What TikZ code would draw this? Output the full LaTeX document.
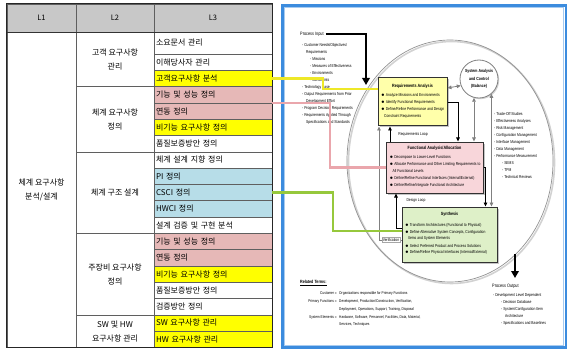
\documentclass[tikz,border=0pt]{standalone}
\usepackage{fontspec}
\newfontfamily\kr{Noto Sans CJK KR}
\newfontfamily\dg[FakeStretch=0.8]{Liberation Sans}
\usetikzlibrary{arrows.meta,shadows}
\definecolor{hdr}{RGB}{200,200,200}
\definecolor{grid}{RGB}{95,95,95}
\definecolor{cy}{RGB}{255,255,0}
\definecolor{cp}{RGB}{230,184,183}
\definecolor{cb}{RGB}{183,221,232}
\definecolor{ryel}{RGB}{255,255,170}
\definecolor{fpink}{RGB}{248,214,218}
\definecolor{sgreen}{RGB}{222,240,200}
\definecolor{lyel}{RGB}{238,232,40}
\definecolor{lpink}{RGB}{234,166,172}
\definecolor{lgreen}{RGB}{150,200,60}
\definecolor{bord}{RGB}{60,140,222}
\definecolor{bx}{RGB}{50,50,50}
\begin{document}
\begin{tikzpicture}[x=1pt,y=-1pt,
  cell/.style={draw=grid,line width=0.6pt,inner sep=0pt,minimum width=118pt,minimum height=16.3pt,text width=114pt,align=left,font=\kr\fontsize{8}{9}\selectfont},
  lvtwo/.style={draw=grid,line width=0.6pt,inner sep=0pt,minimum width=78pt,align=center,font=\kr\fontsize{8}{14}\selectfont},
  hd/.style={draw=grid,fill=hdr,line width=0.6pt,inner sep=0pt,minimum height=28pt,font=\kr\fontsize{7.5}{9}\selectfont},
  dbox/.style={draw=bx,line width=1pt,inner sep=0pt,drop shadow={shadow xshift=1.5pt,shadow yshift=-1.5pt,opacity=0.45}},
  txt/.style={font=\dg\fontsize{4.2}{5}\selectfont,inner sep=0pt,anchor=west},
  rtxt/.style={font=\dg\fontsize{4}{5}\selectfont,inner sep=0pt,anchor=west},
  ttl/.style={font=\dg\bfseries\fontsize{4.6}{5}\selectfont,inner sep=0pt},
  hdtxt/.style={font=\dg\fontsize{4.8}{5}\selectfont,inner sep=0pt,anchor=west},
  darr/.style={draw=black,line width=0.9pt,-{Triangle[length=4pt,width=3.6pt]}},
  garr/.style={draw=gray,line width=0.8pt,{Triangle[length=4pt,width=3.6pt]}-{Triangle[length=4pt,width=3.6pt]}},
  gone/.style={draw=gray,line width=0.8pt,-{Triangle[length=4pt,width=3.6pt]}},
  bigarr/.style={draw=black,line width=2.3pt,-{Triangle[length=7pt,width=7.5pt]}},
  conn/.style={line width=2.6pt}
]
\useasboundingbox (0,0) rectangle (571,353);
\fill[white] (0,0) rectangle (571,353);

% ---------------- table ----------------
\node[hd,minimum width=69pt] (h1) at (41.5,18) {L1};
\node[hd,minimum width=78pt] (h2) at (115,18) {L2};
\node[hd,minimum width=118pt] (h3) at (213,18) {L3};

\node[draw=grid,line width=0.6pt,minimum width=69pt,minimum height=315.4pt,inner sep=0pt,align=center,font=\kr\fontsize{8}{14}\selectfont] (l1) at (41.5,189.7) {체계 요구사항\\분석/설계};

\node[lvtwo,minimum height=54.6pt] (g1) at (115,59.3) {고객 요구사항\\관리};
\node[lvtwo,minimum height=65.2pt] (g2) at (115,119.2) {체계 요구사항\\정의};
\node[lvtwo,minimum height=81.5pt] (g3) at (115,192.55) {체계 구조 설계};
\node[lvtwo,minimum height=81.5pt] (g4) at (115,274.05) {주장비 요구사항\\정의};
\node[lvtwo,minimum height=32.6pt] (g5) at (115,331.1) {SW 및 HW\\요구사항 관리};

\node[cell,minimum height=22pt] (c1) at (213,43) {소요문서 관리};
\node[cell] (c2) at (213,62.15) {이해당사자 관리};
\node[cell,fill=cy] (c3) at (213,78.45) {고객요구사항 분석};
\node[cell,fill=cp] (c4) at (213,94.75) {기능 및 성능 정의};
\node[cell,fill=cp] (c5) at (213,111.05) {연동 정의};
\node[cell,fill=cy] (c6) at (213,127.35) {비기능 요구사항 정의};
\node[cell] (c7) at (213,143.65) {품질보증방안 정의};
\node[cell] (c8) at (213,159.95) {체계 설계 지향 정의};
\node[cell,fill=cb] (c9) at (213,176.25) {PI 정의};
\node[cell,fill=cb] (c10) at (213,192.55) {CSCI 정의};
\node[cell,fill=cb] (c11) at (213,208.85) {HWCI 정의};
\node[cell] (c12) at (213,225.15) {설계 검증 및 구현 분석};
\node[cell,fill=cp] (c13) at (213,241.45) {기능 및 성능 정의};
\node[cell,fill=cp] (c14) at (213,257.75) {연동 정의};
\node[cell,fill=cy] (c15) at (213,274.05) {비기능 요구사항 정의};
\node[cell] (c16) at (213,290.35) {품질보증방안 정의};
\node[cell] (c17) at (213,306.65) {검증방안 정의};
\node[cell,fill=cy] (c18) at (213,322.95) {SW 요구사항 관리};
\node[cell,fill=cy] (c19) at (213,339.25) {HW 요구사항 관리};

\draw[line width=1.3pt,black!85] (h1.north west) rectangle (c19.south east);
\draw[line width=1pt,black!80] (h1.south west) -- (h3.south east);

% ---------------- diagram ----------------
\draw[bord,line width=2.4pt] (282.5,5.5) rectangle (566,347.5);
\draw[bord!45!white,line width=0.9pt] (284.6,7.6) rectangle (563.9,345.4);

\draw[gray!35,line width=1.6pt] (451.5,162.5) ellipse [x radius=103, y radius=121];
\draw[gray!85,line width=0.7pt] (450,161) ellipse [x radius=103, y radius=121];

% boxes
\node[dbox,fill=ryel,minimum width=69pt,minimum height=48pt] (ra) at (412.5,102) {};
\node[dbox,fill=fpink,minimum width=97pt,minimum height=51pt] (fa) at (434.5,167.5) {};
\node[dbox,fill=sgreen,minimum width=95pt,minimum height=55pt] (sy) at (449.5,234.5) {};
\node[circle,draw=gray,line width=0.8pt,fill=white,minimum size=38pt,inner sep=0pt,drop shadow={shadow xshift=1.2pt,shadow yshift=-1.2pt,opacity=0.35}] (sac) at (479,79) {};

\node[ttl,align=center,font=\dg\bfseries\fontsize{4.4}{7.5}\selectfont] at (sac) {System Analysis\\and Control\\(Balance)};

\node[ttl] at (412.5,86) {Requirements Analysis};
\foreach \t [count=\k from 0] in {$\bullet$ Analyze Missions and Environments, $\bullet$ Identify Functional Requirements, $\bullet$ Define/Refine Performance and Design, \hspace*{3pt}Constraint Requirements}
  \node[txt] at (381,{95+7*\k}) {\t};

\node[ttl] at (434.5,148) {Functional Analysis/Allocation};
\foreach \t [count=\k from 0] in {$\bullet$ Decompose to Lower-Level Functions, $\bullet$ Allocate Performance and Other Limiting Requirements to, \hspace*{3pt}All Functional Levels, $\bullet$ Define/Refine Functional Interfaces (Internal/External), $\bullet$ Define/Refine/Integrate Functional Architecture}
  \node[txt] at (389.5,{157+7*\k}) {\t};

\node[ttl] at (449.5,214) {Synthesis};
\node[txt] at (405,225) {$\bullet$ Transform Architectures (Functional to Physical)};
\node[txt] at (405,232) {$\bullet$ Define Alternative System Concepts, Configuration};
\node[txt] at (405,238.5) {\hspace*{3pt}Items and System Elements};
\node[txt] at (405,245.5) {$\bullet$ Select Preferred Product and Process Solutions};
\node[txt] at (405,252.5) {$\bullet$ Define/Refine Physical Interfaces (Internal/External)};

% process input
\node[hdtxt] (pin) at (300,34) {Process Input};
\foreach \t [count=\k from 0] in {- Customer Needs/Objectives/, \hspace*{4pt}Requirements, \hspace*{8pt}- Missions, \hspace*{8pt}- Measures of Effectiveness, \hspace*{8pt}- Environments, \hspace*{8pt}- Constraints, - Technology Base, - Output Requirements from Prior, \hspace*{4pt}Development Effort, - Program Decision Requirements, - Requirements Applied Through, \hspace*{4pt}Specifications and Standards}
  \node[txt] at (302,{45+7*\k}) {\t};

% system analysis list
\foreach \t [count=\k from 0] in {- Trade-Off Studies, - Effectiveness Analyses, - Risk Management, - Configuration Management, - Interface Management, - Data Management, - Performance Measurement, \hspace*{8pt}- SEMS, \hspace*{8pt}- TPM, \hspace*{8pt}- Technical Reviews}
  \node[txt] at (494,{114+7*\k}) {\t};

% process output
\node[hdtxt] (pout) at (492,286) {Process Output};
\foreach \t [count=\k from 0] in {- Development Level Dependent, \hspace*{8pt}- Decision Database, \hspace*{8pt}- System/Configuration Item, \hspace*{12pt}Architecture, \hspace*{8pt}- Specifications and Baselines}
  \node[txt] at (493,{295+7*\k}) {\t};

% related terms
\node[ttl,anchor=west] at (300,283) {\underline{Related Terms:}};
\node[rtxt,anchor=east] at (337,293) {Customer =};
\node[rtxt] at (339,293) {Organizations responsible for Primary Functions};
\node[rtxt,anchor=east] at (337,301.5) {Primary Functions =};
\node[rtxt] at (339,301.5) {Development, Production/Construction, Verification,};
\node[rtxt] at (339,309) {Deployment, Operations, Support, Training, Disposal};
\node[rtxt,anchor=east] at (337,317) {System Elements =};
\node[rtxt] at (339,317) {Hardware, Software, Personnel, Facilities, Data, Material,};
\node[rtxt] at (339,324.5) {Services, Techniques};

% loop labels
\node[txt,anchor=center] at (413,134) {Requirements Loop};
\node[txt,anchor=center] at (416,200) {Design Loop};

% coordinates
\coordinate (pinend) at (366,85);
\coordinate (ostart) at (515,254);
\coordinate (oend) at (515,278);
\coordinate (rlx) at (390,0);
\coordinate (vx) at (379,0);
\coordinate (dlx) at (396,0);
\coordinate (yx) at (323,0);
\coordinate (px) at (330,0);
\coordinate (gx) at (333,0);
\coordinate (yend) at ([yshift=13pt]ra.west);
\coordinate (gend) at ([yshift=3.5pt]sy.west);
\coordinate (vstart) at ([yshift=-6pt]sy.west);

% big arrows
\draw[bigarr] ([xshift=2pt]pin.east) -| (pinend);
\draw[bigarr] (ostart) -- (oend);

% internal arrows
\draw[darr] (ra.east) -| ([xshift=23.5pt]fa.north);
\draw[darr] (fa.east) -| ([xshift=36pt]sy.north);
\draw[darr] (rlx |- fa.north) -- (rlx |- ra.south);
\draw[darr] ([yshift=6.5pt]sy.west) -| (dlx |- fa.south);
\draw[gone] (vstart) -| (vx |- ra.south);
\node[txt,anchor=center,fill=white,draw=gray!70,line width=0.4pt,inner sep=0.8pt] at (391,239.5) {Verification};

\draw[garr] ([yshift=14pt]ra.east) -- (sac.200);
\draw[garr] (sac.-105) -- (sac.-105 |- fa.north);
\draw[garr] (sac.-50) -- (sac.-50 |- sy.north);

% coloured connectors
\draw[conn,lyel] (c3.east) -| (yx |- yend) -- (yend);
\draw[conn,lpink] (c4.south east) -| (px |- fa.west) -- (fa.west);
\draw[conn,lgreen] (c10.east) -| (gx |- gend) -- (gend);
\end{tikzpicture}
\end{document}
